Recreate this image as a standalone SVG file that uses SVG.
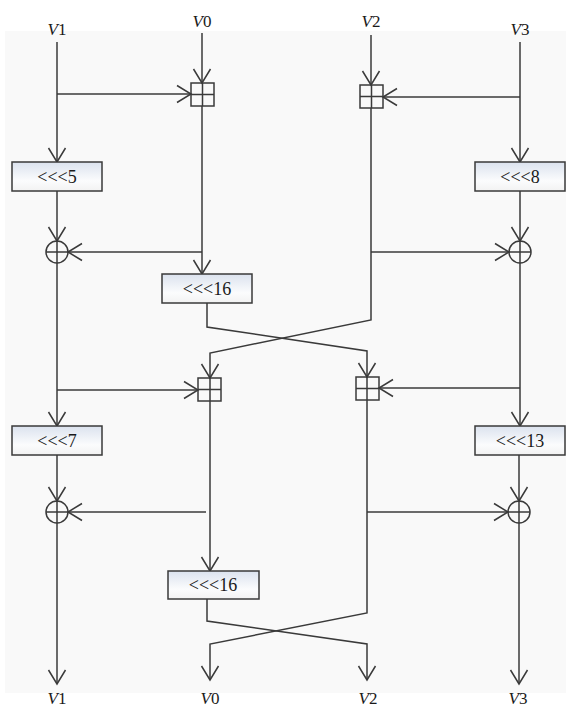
<svg xmlns="http://www.w3.org/2000/svg" width="566" height="709" viewBox="0 0 566 709">
<style>
.c{fill:none;stroke:#3a3a3a;stroke-width:1.5}
.n{fill:none;stroke:#3a3a3a;stroke-width:1.5}
.box{fill:url(#g);stroke:#3a3a3a;stroke-width:1.5}
.t{font-family:"Liberation Serif","Times New Roman",serif;font-size:17px;fill:#1a1a1a;text-anchor:middle}
.b{font-size:18px}
.i{font-style:italic}
</style>
<defs>
<linearGradient id="g" x1="0" y1="0" x2="0" y2="1">
<stop offset="0" stop-color="#dbe2ee"/>
<stop offset="0.65" stop-color="#fbfcfd"/>
<stop offset="1" stop-color="#f2f2f2"/>
</linearGradient>
<marker id="a" markerUnits="userSpaceOnUse" viewBox="-15 -10 16 20" markerWidth="16" markerHeight="20" refX="0" refY="0" orient="auto" overflow="visible">
<path d="M-14,-8.5 L0,0 L-14,8.5" fill="none" stroke="#3a3a3a" stroke-width="1.5"/>
</marker>
</defs>
<rect x="5" y="31" width="561" height="662" fill="#f9f9f9"/>
<g id="connectors">
<path class="c" d="M57,42 V162" marker-end="url(#a)"/>
<path class="c" d="M57,94 H191" marker-end="url(#a)"/>
<path class="c" d="M202,33 V83" marker-end="url(#a)"/>
<path class="c" d="M202,106 V274" marker-end="url(#a)"/>
<path class="c" d="M202,252 H68" marker-end="url(#a)"/>
<path class="c" d="M371,35 V85" marker-end="url(#a)"/>
<path class="c" d="M371,108 V320 L210,353 V378" marker-end="url(#a)"/>
<path class="c" d="M371,252 H509" marker-end="url(#a)"/>
<path class="c" d="M520,42 V162" marker-end="url(#a)"/>
<path class="c" d="M520,97 H383" marker-end="url(#a)"/>
<path class="c" d="M57,191 V241" marker-end="url(#a)"/>
<path class="c" d="M520,191 V241" marker-end="url(#a)"/>
<path class="c" d="M57,263 V426" marker-end="url(#a)"/>
<path class="c" d="M57,390 H198" marker-end="url(#a)"/>
<path class="c" d="M207,303 V327 L367,351 V377" marker-end="url(#a)"/>
<path class="c" d="M520,263 V426" marker-end="url(#a)"/>
<path class="c" d="M520,388 H379" marker-end="url(#a)"/>
<path class="c" d="M210,401 V571" marker-end="url(#a)"/>
<path class="c" d="M206,512 H68" marker-end="url(#a)"/>
<path class="c" d="M367,400 V613 L210,644 V680" marker-end="url(#a)"/>
<path class="c" d="M367,512 H508" marker-end="url(#a)"/>
<path class="c" d="M57,455 V501" marker-end="url(#a)"/>
<path class="c" d="M519,455 V501" marker-end="url(#a)"/>
<path class="c" d="M57,523 V684" marker-end="url(#a)"/>
<path class="c" d="M519,523 V684" marker-end="url(#a)"/>
<path class="c" d="M207,599 V621 L367,644 V680" marker-end="url(#a)"/>
</g>
<g id="in-v1"><text class="t" x="57" y="35"><tspan class="i">V</tspan>1</text></g>
<g id="in-v0"><text class="t" x="202" y="27"><tspan class="i">V</tspan>0</text></g>
<g id="in-v2"><text class="t" x="371" y="27"><tspan class="i">V</tspan>2</text></g>
<g id="in-v3"><text class="t" x="520" y="35"><tspan class="i">V</tspan>3</text></g>
<g id="add1"><rect class="n" x="191" y="83" width="23" height="23" fill="#f9f9f9"/><path class="n" d="M191,94.5 H214 M202.5,83 V106"/></g>
<g id="add2"><rect class="n" x="360" y="85" width="23" height="23" fill="#f9f9f9"/><path class="n" d="M360,96.5 H383 M371.5,85 V108"/></g>
<g id="rot5"><rect class="box" x="12" y="162" width="90" height="29"/><text class="t b" x="57" y="183">&lt;&lt;&lt;5</text></g>
<g id="rot8"><rect class="box" x="475" y="162" width="90" height="29"/><text class="t b" x="520" y="183">&lt;&lt;&lt;8</text></g>
<g id="xor1"><circle class="n" cx="57" cy="252" r="11"/><path class="n" d="M46,252 H68 M57,241 V263"/></g>
<g id="xor2"><circle class="n" cx="520" cy="252" r="11"/><path class="n" d="M509,252 H531 M520,241 V263"/></g>
<g id="rot16a"><rect class="box" x="162" y="274" width="90" height="29"/><text class="t b" x="207" y="295">&lt;&lt;&lt;16</text></g>
<g id="add3"><rect class="n" x="198" y="378" width="23" height="23" fill="#f9f9f9"/><path class="n" d="M198,389.5 H221 M210,378 V401"/></g>
<g id="add4"><rect class="n" x="356" y="377" width="23" height="23" fill="#f9f9f9"/><path class="n" d="M356,388.5 H379 M367,377 V400"/></g>
<g id="rot7"><rect class="box" x="12" y="426" width="90" height="29"/><text class="t b" x="57" y="447">&lt;&lt;&lt;7</text></g>
<g id="rot13"><rect class="box" x="475" y="426" width="90" height="29"/><text class="t b" x="520" y="447">&lt;&lt;&lt;13</text></g>
<g id="xor3"><circle class="n" cx="57" cy="512" r="11"/><path class="n" d="M46,512 H68 M57,501 V523"/></g>
<g id="xor4"><circle class="n" cx="519" cy="512" r="11"/><path class="n" d="M508,512 H530 M519,501 V523"/></g>
<g id="rot16b"><rect class="box" x="168" y="571" width="91" height="28"/><text class="t b" x="213" y="591">&lt;&lt;&lt;16</text></g>
<g id="out-v1"><text class="t" x="57" y="704"><tspan class="i">V</tspan>1</text></g>
<g id="out-v0"><text class="t" x="210" y="704"><tspan class="i">V</tspan>0</text></g>
<g id="out-v2"><text class="t" x="368" y="704"><tspan class="i">V</tspan>2</text></g>
<g id="out-v3"><text class="t" x="518" y="704"><tspan class="i">V</tspan>3</text></g>
</svg>
